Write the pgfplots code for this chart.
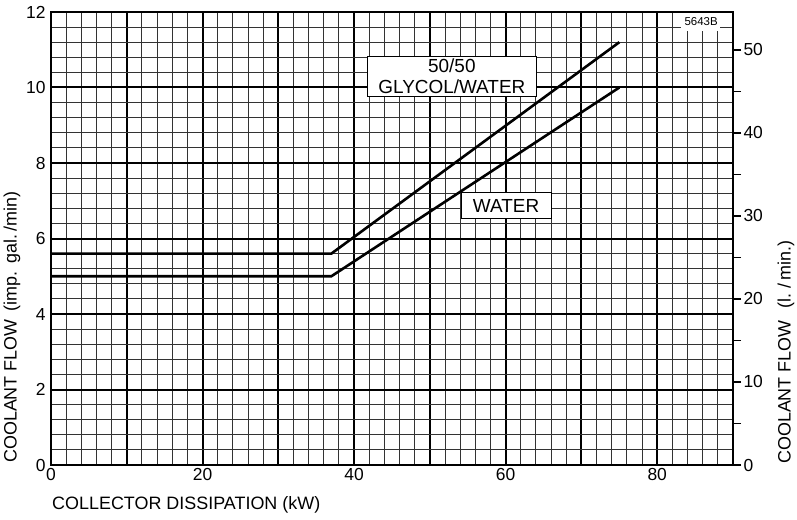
\documentclass[border=0pt]{standalone}
\usepackage{fontspec}
\setmainfont{Liberation Sans}
\usepackage{pgfplots}
\pgfplotsset{compat=1.18}
\begin{document}
\begin{tikzpicture}
\begin{axis}[
  scale only axis, width=682bp, height=453bp,
  xmin=0, xmax=90, ymin=0, ymax=12,
  xtick={0,10,...,90}, xticklabels={0,,20,,40,,60,,80,},
  ytick={0,2,...,12},
  minor x tick num=4, minor y tick num=4,
  grid=both,
  major grid style={black, line width=2bp},
  minor grid style={black!80, line width=1bp},
  major tick length=0pt, minor tick length=0pt,
  axis line style={black, line width=2bp},
  /pgf/number format/assume math mode=true,
  ticklabel style={font=\fontsize{17.5}{20}\selectfont},
  xticklabel style={yshift=0bp},
  yticklabel style={xshift=-2bp},
  clip=false,
]
\addplot[black, line width=2.6bp] coordinates {(0,5.0) (37,5.0) (75,10.0)};
\addplot[black, line width=2.6bp] coordinates {(0,5.6) (37,5.6) (75,11.2)};
% labels
\draw[black, line width=0.9bp, fill=white] (axis cs:41.8,9.75) rectangle (axis cs:64.0,10.83);
\node[align=center, font=\fontsize{19}{21}\selectfont, inner sep=0] at (axis cs:52.9,10.29) {50/50\\GLYCOL/WATER};
\draw[black, line width=0.9bp, fill=white] (axis cs:54.1,6.52) rectangle (axis cs:66.0,7.21);
\node[font=\fontsize{19}{21}\selectfont, inner sep=0] at (axis cs:60.05,6.86) {WATER};
\fill[white] (axis cs:83.2,11.5) rectangle (axis cs:88.3,12);
\draw[black, line width=2bp] (rel axis cs:0.9,1) -- (rel axis cs:1,1);
\node[font=\fontsize{11.5}{13}\selectfont, inner sep=0] at (axis cs:85.8,11.74) {5643B};
% axis labels
\node[anchor=west, inner sep=0, font=\fontsize{18}{21}\selectfont] at ([xshift=1bp,yshift=-40bp]rel axis cs:0,0) {COLLECTOR DISSIPATION (kW)};
\node[rotate=90, anchor=west, inner sep=0, font=\fontsize{18}{21}\selectfont] at ([xshift=-39bp,yshift=2bp]rel axis cs:0,0) {COOLANT FLOW\hspace{8bp}(imp.\hspace{8bp}gal.\hspace{3bp}/min)};
\node[rotate=90, anchor=west, inner sep=0, font=\fontsize{18}{21}\selectfont] at ([xshift=53bp,yshift=1bp]rel axis cs:1,0) {COOLANT FLOW\hspace{12bp}(l.\hspace{5bp}/\hspace{3bp}min.)};
\end{axis}
\begin{axis}[
  scale only axis, width=682bp, height=453bp,
  xmin=0, xmax=90, ymin=0, ymax=54.553,
  axis x line=none, axis y line*=right,
  ytick={0,10,...,50}, minor ytick={5,15,...,45},
  tick align=outside,
  major tick length=8bp, minor tick length=8bp,
  tick style={black, line width=1.4bp},
  axis line style={black, line width=2bp},
  /pgf/number format/assume math mode=true,
  ticklabel style={font=\fontsize{17.5}{20}\selectfont},
  yticklabel style={xshift=-1bp},
]
\addplot[draw=none] coordinates {(0,0)};
\end{axis}
\pgfresetboundingbox
\path ([xshift=-51bp,yshift=-54bp]current axis.south west) rectangle ([xshift=64bp,yshift=12bp]current axis.north east);
\end{tikzpicture}
\end{document}
